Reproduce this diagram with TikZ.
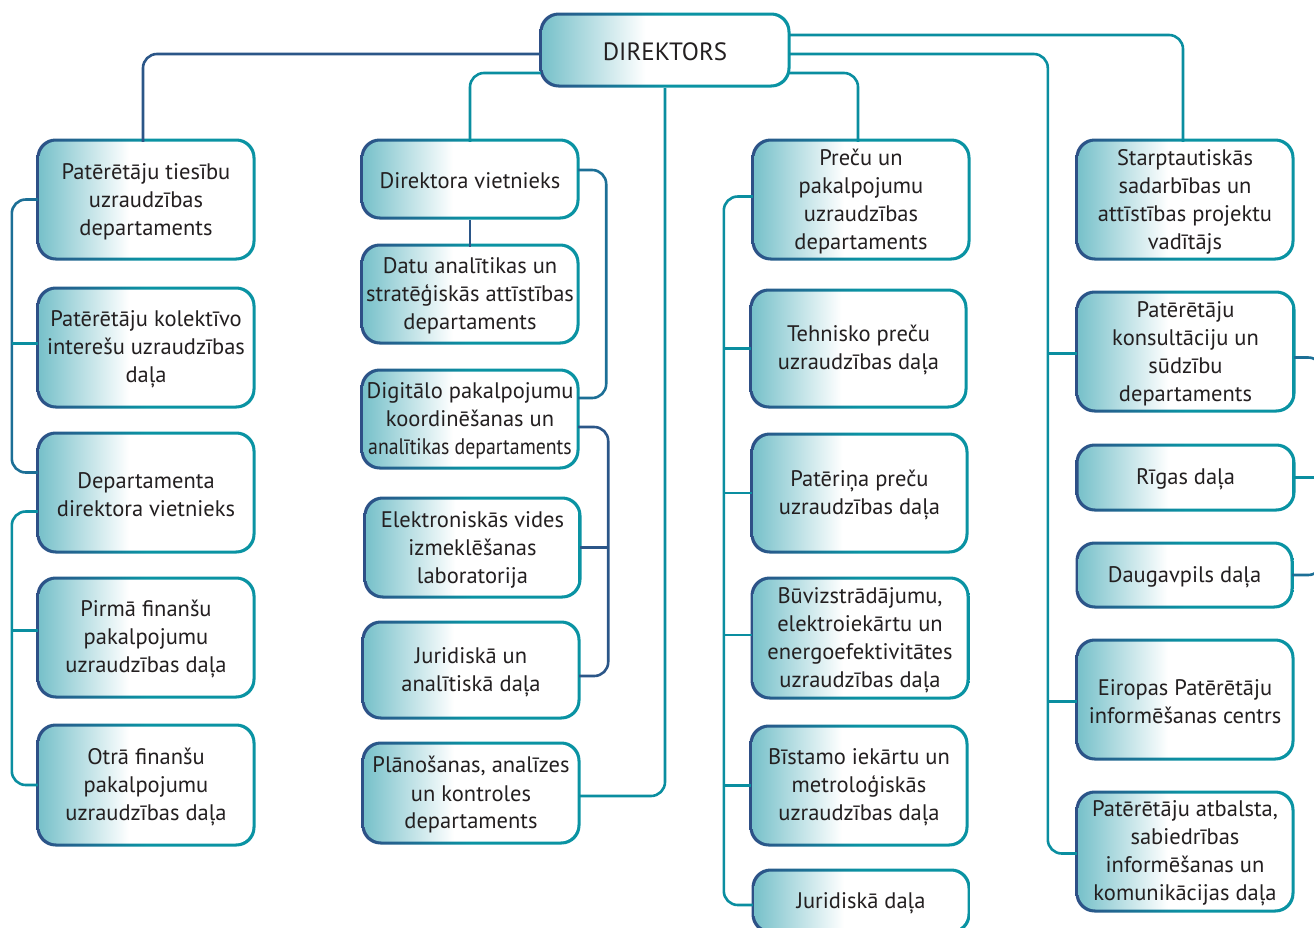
\documentclass[tikz,border=0pt]{standalone}
\usepackage{fontspec}
\setmainfont{PT Sans}
\usetikzlibrary{calc}
\definecolor{fillL}{HTML}{78C1CA}
\definecolor{bdL}{HTML}{2E4F86}
\definecolor{bdR}{HTML}{0A93A3}
\definecolor{cteal}{HTML}{0A8EA0}
\definecolor{cblue}{HTML}{2B5688}
\definecolor{cmix}{HTML}{1C6F96}
\definecolor{txtc}{HTML}{231F20}
\pgfdeclarehorizontalshading{boxfill}{100bp}{color(0bp)=(fillL); color(25bp)=(fillL); color(46bp)=(white); color(100bp)=(white)}
\pgfdeclarehorizontalshading{bordfill}{100bp}{color(0bp)=(bdL); color(25bp)=(bdL); color(50bp)=(bdR); color(100bp)=(bdR)}
\tikzset{
  bordshade/.style={shading=bordfill, rounded corners=19pt},
  fillshade/.style={shading=boxfill, rounded corners=17pt},
  boxtext/.style={inner sep=0pt, align=center, text=txtc, font=\fontsize{22.5}{28}\selectfont},
  conn/.style={line width=2.6pt, rounded corners=14pt, draw=cteal},
  connb/.style={conn, draw=cblue},
  connm/.style={conn, draw=cmix},
}
\newcommand\mybox[6]{%
  \shade[bordshade] (#2-1.5,#3-1.5) rectangle (#4+1.5,#5+1.5);
  \shade[fillshade] (#2+1.5,#3+1.5) rectangle (#4-1.5,#5-1.5);
  \node[boxtext, minimum width={#4-#2}, minimum height={#5-#3}] (#1) at ({(#2+#4)/2},{(#3+#5)/2+2}) {#6};
}
\begin{document}
\begin{tikzpicture}[x=1pt,y=-1pt]
\useasboundingbox (0,0) rectangle (1314,927);
\clip (0,0) rectangle (1314,927);
% top
\mybox{dir}{541}{14}{789}{86}{\fontsize{25}{28}\selectfont DIREKTORS}
% left column
\mybox{b1}{38}{140}{254}{259}{Patērētāju tiesību\\uzraudzības\\departaments}
\mybox{b2}{38}{288}{254}{407}{Patērētāju kolektīvo\\interešu uzraudzības\\daļa}
\mybox{b3}{38}{433}{254}{552}{Departamenta\\direktora vietnieks}
\mybox{b4}{38}{578}{254}{697}{Pirmā finanšu\\pakalpojumu\\uzraudzības daļa}
\mybox{b5}{38}{725}{254}{845}{Otrā finanšu\\pakalpojumu\\uzraudzības daļa}
% middle column
\mybox{ma}{362}{140}{578}{218}{Direktora vietnieks}
\mybox{mb}{362}{245}{578}{343}{Datu analītikas un\\stratēģiskās attīstības\\departaments}
\mybox{mc}{362}{370}{578}{468}{Digitālo pakalpojumu\\koordinēšanas un\\\scalebox{0.88}[1]{analītikas departaments}}
\mybox{md}{365}{498}{580}{597}{Elektroniskās vides\\izmeklēšanas\\laboratorija}
\mybox{me}{363}{622}{579}{718}{Juridiskā un\\analītiskā daļa}
\mybox{mf}{363}{743}{579}{843}{Plānošanas, analīzes\\un kontroles\\departaments}
% third column
\mybox{g}{753}{140}{969}{259}{Preču un\\pakalpojumu\\uzraudzības\\departaments}
\mybox{h}{751}{290}{966}{407}{Tehnisko preču\\uzraudzības daļa}
\mybox{i}{752}{434}{967}{552}{Patēriņa preču\\uzraudzības daļa}
\mybox{j}{752}{578}{968}{698}{Būvizstrādājumu,\\elektroiekārtu un\\energoefektivitātes\\uzraudzības daļa}
\mybox{k}{751}{726}{967}{845}{Bīstamo iekārtu un\\metroloģiskās\\uzraudzības daļa}
\mybox{l}{753}{870}{969}{932}{Juridiskā daļa}
% fourth column
\mybox{m}{1077}{140}{1293}{259}{Starptautiskās\\sadarbības un\\attīstības projektu\\vadītājs}
\mybox{n}{1077}{292}{1294}{411}{Patērētāju\\konsultāciju un\\sūdzību\\departaments}
\mybox{o}{1077}{445}{1294}{510}{Rīgas daļa}
\mybox{p}{1077}{543}{1292}{607}{Daugavpils daļa}
\mybox{q}{1077}{640}{1293}{759}{Eiropas Patērētāju\\informēšanas centrs}
\mybox{r}{1077}{792}{1293}{911}{Patērētāju atbalsta,\\sabiedrības\\informēšanas un\\komunikācijas daļa}
% connectors from director
\draw[connb] ([yshift=-2pt]dir.west) -| ([xshift=-3pt]b1.north);
\draw[conn] ([yshift=-21pt]dir.west) -| (ma.north);
\draw[conn] (dir.south) |- ([yshift=-1pt]mf.east);
\draw[conn] ([yshift=-21pt]dir.east) -| ([xshift=-3pt]g.north);
\draw[conn] ([yshift=17pt]dir.east) -| ([xshift=-2pt]m.north);
\draw[conn] ([yshift=-2pt]dir.east) -| ([xshift=-29pt]r.west) -- (r.west);
\draw[conn] ([xshift=-29pt]n.west) -- (n.west);
\draw[conn] ([xshift=-29pt]q.west) -- (q.west);
% left brackets
\draw[connm] ([yshift=2pt]b1.west) -| ([xshift=-26pt,yshift=22pt]b3.west) -- ([yshift=22pt]b3.west);
\draw[conn] ([xshift=-26pt,yshift=6pt]b2.west) -- ([yshift=6pt]b2.west);
\draw[conn] ([yshift=-17pt]b3.west) -| ([xshift=-26pt,yshift=2pt]b5.west) -- ([yshift=2pt]b5.west);
\draw[conn] ([xshift=-26pt,yshift=9pt]b4.west) -- ([yshift=9pt]b4.west);
% middle brackets
\draw[connb] (ma.south) -- (mb.north);
\draw[connm] ([yshift=11pt]ma.east) -| ([xshift=28pt,yshift=23pt]mc.east) -- ([yshift=23pt]mc.east);
\draw[connb] ([yshift=-6pt]mc.east) -| ([xshift=29pt,yshift=-4pt]me.east) -- ([yshift=-4pt]me.east);
\draw[connb] ([xshift=28pt,yshift=2pt]md.east) -- ([yshift=2pt]md.east);
% third column bracket
\draw[conn] ([yshift=5pt]g.west) -| ([xshift=-29pt,yshift=-2pt]l.west) -- ([yshift=-2pt]l.west);
\draw[conn] ([xshift=-27pt,yshift=2pt]h.west) -- ([yshift=2pt]h.west);
\draw[conn] ([xshift=-28pt,yshift=2pt]i.west) -- ([yshift=2pt]i.west);
\draw[conn] ([xshift=-28pt,yshift=5pt]j.west) -- ([yshift=5pt]j.west);
\draw[conn] ([xshift=-27pt,yshift=2pt]k.west) -- ([yshift=2pt]k.west);
% right bracket (mostly off the page)
\draw[connm] ([yshift=-4pt]n.east) -| ([xshift=30pt,yshift=2pt]p.east) -- ([yshift=2pt]p.east);
\draw[conn] ([yshift=2pt]o.east) -- ([xshift=30pt,yshift=2pt]o.east);
\end{tikzpicture}
\end{document}
